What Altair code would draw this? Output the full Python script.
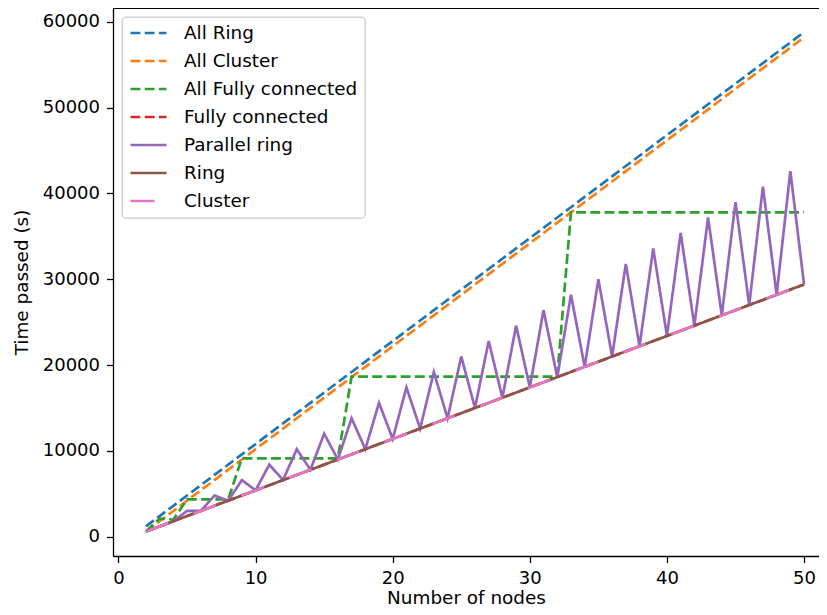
import altair as alt
import pandas as pd

nodes = [2, 3, 4, 5, 6, 7, 8, 9, 10, 11, 12, 13, 14, 15, 16, 17, 18, 19, 20, 21,
         22, 23, 24, 25, 26, 27, 28, 29, 30, 31, 32, 33, 34, 35, 36, 37, 38, 39, 40,
         41, 42, 43, 44, 45, 46, 47, 48, 49, 50]

all_ring = [1200, 2400, 3600, 4800, 6000, 7200, 8400, 9600, 10800, 12000, 13200,
            14400, 15600, 16800, 18000, 19200, 20400, 21600, 22800, 24000, 25200,
            26400, 27600, 28800, 30000, 31200, 32400, 33600, 34800, 36000, 37200,
            38400, 39600, 40800, 42000, 43200, 44400, 45600, 46800, 48000, 49200,
            50400, 51600, 52800, 54000, 55200, 56400, 57600, 58800]

all_cluster = [600, 1800, 3000, 4200, 5400, 6600, 7800, 9000, 10200, 11400, 12600,
               13800, 15000, 16200, 17400, 18600, 19800, 21000, 22200, 23400, 24600,
               25800, 27000, 28200, 29400, 30600, 31800, 33000, 34200, 35400, 36600,
               37800, 39000, 40200, 41400, 42600, 43800, 45000, 46200, 47400, 48600,
               49800, 51000, 52200, 53400, 54600, 55800, 57000, 58200]

all_fully = [600, 2100, 2000, 4350, 4350, 4350, 4350, 9130, 9130, 9130, 9130, 9130,
             9130, 9130, 9130, 18650, 18650, 18650, 18650, 18650, 18650, 18650, 18650,
             18650, 18650, 18650, 18650, 18650, 18650, 18650, 18650, 37800, 37800,
             37800, 37800, 37800, 37800, 37800, 37800, 37800, 37800, 37800, 37800,
             37800, 37800, 37800, 37800, 37800, 37800]

ring = [600, 1200, 1800, 2400, 3000, 3600, 4200, 4800, 5400, 6000, 6600, 7200, 7800,
        8400, 9000, 9600, 10200, 10800, 11400, 12000, 12600, 13200, 13800, 14400,
        15000, 15600, 16200, 16800, 17400, 18000, 18600, 19200, 19800, 20400, 21000,
        21600, 22200, 22800, 23400, 24000, 24600, 25200, 25800, 26400, 27000, 27600,
        28200, 28800, 29400]

fully = list(ring)
cluster = list(ring)

parallel_ring = [600, 1200, 1800, 3000, 3000, 4800, 4200, 6600, 5400, 8400, 6600,
                 10200, 7800, 12000, 9000, 13800, 10200, 15600, 11400, 17400, 12600,
                 19200, 13800, 21000, 15000, 22800, 16200, 24600, 17400, 26400, 18600,
                 28200, 19800, 30000, 21000, 31800, 22200, 33600, 23400, 35400, 24600,
                 37200, 25800, 39000, 27000, 40800, 28200, 42600, 29400]

series_names = ["All Ring", "All Cluster", "All Fully connected", "Fully connected",
                "Parallel ring", "Ring", "Cluster"]
series_values = [all_ring, all_cluster, all_fully, fully, parallel_ring, ring, cluster]
colors = ["#1f77b4", "#ff7f0e", "#2ca02c", "#d62728", "#9467bd", "#8c564b", "#e377c2"]
dashes = [[9.9, 4.3], [9.9, 4.3], [9.9, 4.3], [9.9, 4.3], [1, 0], [1, 0], [24, 27]]

rows = []
for name, vals in zip(series_names, series_values):
    for n, v in zip(nodes, vals):
        rows.append({"series": name, "nodes": n, "time": v})
df = pd.DataFrame(rows)

W, H = 706, 548

legend = alt.Legend(
    title=None, orient="none", legendX=9, legendY=9,
    symbolType="stroke", symbolSize=1296, symbolStrokeWidth=2.7,
    labelFont="DejaVu Sans", labelFontSize=18.4, labelColor="black",
    labelOffset=16, labelLimit=400, padding=7, rowPadding=9, clipHeight=18,
    fillColor="white", strokeColor="#cccccc", cornerRadius=4,
)

x_enc = alt.X("nodes:Q",
              scale=alt.Scale(domain=[-0.4, 51.09], nice=False, zero=False),
              axis=alt.Axis(values=[0, 10, 20, 30, 40, 50], format="d",
                            title="Number of nodes", titlePadding=1))
y_enc = alt.Y("time:Q",
              scale=alt.Scale(domain=[-2250, 61620], nice=False, zero=False),
              axis=alt.Axis(values=[0, 10000, 20000, 30000, 40000, 50000, 60000],
                            format="d", title="Time passed (s)", titlePadding=11))
color_enc = alt.Color("series:N", scale=alt.Scale(domain=series_names, range=colors),
                      legend=legend)
dash_enc = alt.StrokeDash("series:N", scale=alt.Scale(domain=series_names, range=dashes),
                          legend=legend)

base = alt.Chart(df)
layers = []
for name in series_names:
    layers.append(
        base.transform_filter(alt.datum.series == name)
        .mark_line(strokeWidth=2.7)
        .encode(x=x_enc, y=y_enc, color=color_enc, strokeDash=dash_enc)
    )

top_spine = alt.Chart(df).mark_rule(color="black", strokeWidth=1.3).encode(
    x=alt.value(0), x2=alt.value(W), y=alt.value(0)
)

chart = alt.layer(*layers, top_spine).properties(
    width=W, height=H, autosize="none",
    padding={"left": 105, "top": 0, "right": 0, "bottom": 51},
).configure_view(stroke=None).configure_axis(
    grid=False, domainColor="black", domainWidth=1.3, tickColor="black",
    tickWidth=1.3, tickSize=6.5, labelPadding=7, labelFont="DejaVu Sans",
    labelFontSize=18, labelColor="black", titleFont="DejaVu Sans", titleFontSize=18.4,
    titleFontWeight="normal", titleColor="black",
).configure_legend(strokeWidth=1.3)

chart.save("out.html", embed_options={"renderer": "svg", "actions": False})
